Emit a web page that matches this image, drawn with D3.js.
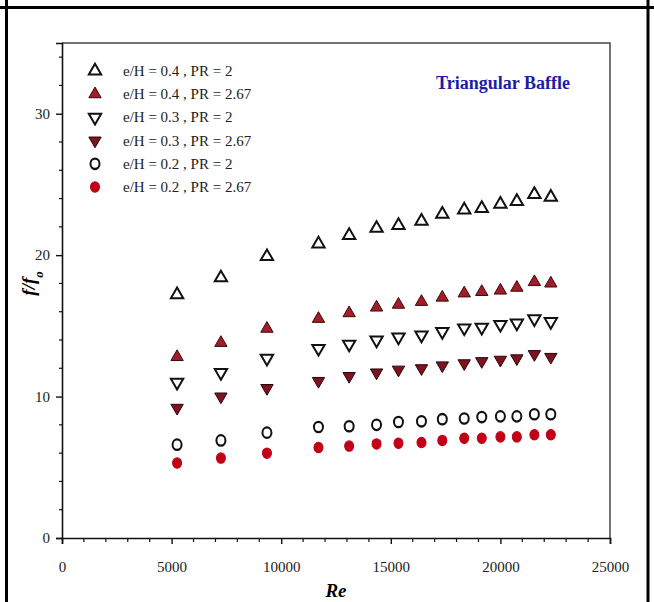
<!DOCTYPE html>
<html>
<head>
<meta charset="utf-8">
<script src="https://cdn.jsdelivr.net/npm/d3@7"></script>
<style>
  body { margin: 0; background: #fff; }
  svg { display: block; }
</style>
</head>
<body>
<div id="chart"></div>
<script>
// Reynolds numbers (shared by all series)
const reValues = [5250, 7250, 9350, 11700, 13100, 14350, 15350, 16400, 17350, 18350, 19150, 20000, 20750, 21550, 22300];

// f/f0 for each case
const eh04pr2   = [17.2, 18.4, 19.9, 20.8, 21.4, 21.9, 22.1, 22.4, 22.9, 23.2, 23.3, 23.6, 23.8, 24.3, 24.1];
const eh04pr267 = [12.8, 13.8, 14.8, 15.5, 15.9, 16.3, 16.5, 16.7, 17.0, 17.3, 17.4, 17.5, 17.7, 18.1, 18.0];
const eh03pr2   = [11.0, 11.7, 12.7, 13.4, 13.7, 14.0, 14.2, 14.35, 14.6, 14.85, 14.9, 15.1, 15.2, 15.5, 15.3];
const eh03pr267 = [9.2, 10.0, 10.6, 11.1, 11.45, 11.7, 11.9, 12.0, 12.2, 12.35, 12.5, 12.6, 12.7, 13.0, 12.8];
const eh02pr2   = [6.6, 6.9, 7.45, 7.85, 7.9, 8.0, 8.2, 8.25, 8.4, 8.45, 8.55, 8.6, 8.6, 8.75, 8.75];
const eh02pr267 = [5.3, 5.65, 6.0, 6.4, 6.5, 6.65, 6.7, 6.75, 6.9, 7.05, 7.05, 7.15, 7.15, 7.3, 7.3];

const xTicks = [0, 5000, 10000, 15000, 20000, 25000];
const yTicks = [0, 10, 20, 30];

const series = [
  { name: "e/H = 0.4 , PR = 2",    values: eh04pr2,   shape: "up",     fill: "#fff",    stroke: "#111" },
  { name: "e/H = 0.4 , PR = 2.67", values: eh04pr267, shape: "up",     fill: "#a11d29", stroke: "#3a0a0e" },
  { name: "e/H = 0.3 , PR = 2",    values: eh03pr2,   shape: "down",   fill: "#fff",    stroke: "#111" },
  { name: "e/H = 0.3 , PR = 2.67", values: eh03pr267, shape: "down",   fill: "#7e1320", stroke: "#2a0508" },
  { name: "e/H = 0.2 , PR = 2",    values: eh02pr2,   shape: "circle", fill: "#fff",    stroke: "#111" },
  { name: "e/H = 0.2 , PR = 2.67", values: eh02pr267, shape: "circle", fill: "#c10018", stroke: "#c10018" }
];

const width = 654, height = 602;
const margin = { top: 43, right: 44, bottom: 64, left: 62 };
const serif = "'Liberation Serif', 'Times New Roman', serif";

const svg = d3.select("#chart").append("svg")
  .attr("width", width)
  .attr("height", height);

// table cell borders around the figure
svg.append("line").attr("x1", 0).attr("x2", width).attr("y1", 7.5).attr("y2", 7.5)
  .attr("stroke", "#000").attr("stroke-width", 3);
svg.append("line").attr("x1", 6.5).attr("x2", 6.5).attr("y1", 0).attr("y2", height)
  .attr("stroke", "#000").attr("stroke-width", 3);
svg.append("line").attr("x1", 648).attr("x2", 648).attr("y1", 0).attr("y2", height)
  .attr("stroke", "#000").attr("stroke-width", 3);

const x = d3.scaleLinear()
  .domain([0, 25000])
  .range([margin.left, width - margin.right]);

const y = d3.scaleLinear()
  .domain([0, 35])
  .range([height - margin.bottom, margin.top]);

const x0 = x(0), y0 = y(0);

// top and right frame
svg.append("path")
  .attr("d", `M${x(0)},${y(35)}H${x(25000)}V${y(0)}`)
  .attr("fill", "none")
  .attr("stroke", "#444")
  .attr("stroke-width", 1.5);

// minor ticks
svg.append("g")
  .selectAll("line")
  .data(d3.range(0, 35, 2).filter(v => v % 10 !== 0))
  .join("line")
  .attr("x1", x0 - 3).attr("x2", x0)
  .attr("y1", d => y(d)).attr("y2", d => y(d))
  .attr("stroke", "#111").attr("stroke-width", 1.2);

svg.append("g")
  .selectAll("line")
  .data(d3.range(0, 25001, 1000).filter(v => v % 5000 !== 0))
  .join("line")
  .attr("x1", d => x(d)).attr("x2", d => x(d))
  .attr("y1", y0).attr("y2", y0 + 4)
  .attr("stroke", "#111").attr("stroke-width", 1.2);

// axes
const xAxis = svg.append("g")
  .attr("transform", `translate(0,${y0})`)
  .call(d3.axisBottom(x).tickValues(xTicks).tickSize(6).tickPadding(17).tickFormat(d3.format("d")));

const yAxis = svg.append("g")
  .attr("transform", `translate(${x0},0)`)
  .call(d3.axisLeft(y).tickValues(yTicks).tickSize(6).tickPadding(6));

[xAxis, yAxis].forEach(g => {
  g.select(".domain").attr("stroke", "#111").attr("stroke-width", 1.6);
  g.selectAll(".tick line").attr("stroke", "#111").attr("stroke-width", 1.4);
  g.selectAll("text")
    .attr("fill", "#222")
    .style("font-family", serif)
    .style("font-size", "15px");
});

// axis titles
svg.append("text")
  .attr("x", (x(0) + x(25000)) / 2)
  .attr("y", 597)
  .attr("text-anchor", "middle")
  .style("font-family", serif)
  .style("font-size", "19px")
  .style("font-weight", "bold")
  .style("font-style", "italic")
  .text("Re");

const yLabel = svg.append("text")
  .attr("transform", `translate(35,${y(18)}) rotate(-90)`)
  .attr("text-anchor", "middle")
  .style("font-family", serif)
  .style("font-size", "19px")
  .style("font-weight", "bold")
  .style("font-style", "italic");
yLabel.append("tspan").text("f/f");
yLabel.append("tspan").attr("baseline-shift", "sub").style("font-size", "13px").text("o");

// annotation
svg.append("text")
  .attr("x", 503)
  .attr("y", 89)
  .attr("text-anchor", "middle")
  .attr("fill", "#1c1ca8")
  .style("font-family", serif)
  .style("font-size", "18px")
  .style("font-weight", "bold")
  .text("Triangular Baffle");

// marker shapes
const tri = d3.symbol().type(d3.symbolTriangle).size(66);
const circ = d3.symbol().type(d3.symbolCircle).size(64);

function markerTransform(s, px, py) {
  let t = `translate(${px},${py})`;
  if (s.shape === "down") t += " rotate(180)";
  if (s.shape === "circle") t += " scale(1,1.15)";
  return t;
}

series.forEach(s => {
  const pts = reValues.map((re, i) => ({ re, v: s.values[i] }));
  svg.append("g")
    .selectAll("path")
    .data(pts)
    .join("path")
    .attr("d", s.shape === "circle" ? circ : tri)
    .attr("transform", d => markerTransform(s, x(d.re), y(d.v)))
    .attr("fill", s.fill)
    .attr("stroke", s.stroke)
    .attr("stroke-width", s.fill === "#fff" ? 2 : 1);
});

// legend
const legend = svg.append("g");
series.forEach((s, i) => {
  const ly = 71 + i * 23.2;
  legend.append("path")
    .attr("d", s.shape === "circle" ? circ : tri)
    .attr("transform", markerTransform(s, 95, ly))
    .attr("fill", s.fill)
    .attr("stroke", s.stroke)
    .attr("stroke-width", s.fill === "#fff" ? 2 : 1);
  legend.append("text")
    .attr("x", 123)
    .attr("y", ly + 5)
    .attr("fill", "#222")
    .style("font-family", serif)
    .style("font-size", "15px")
    .text(s.name);
});
</script>
</body>
</html>
